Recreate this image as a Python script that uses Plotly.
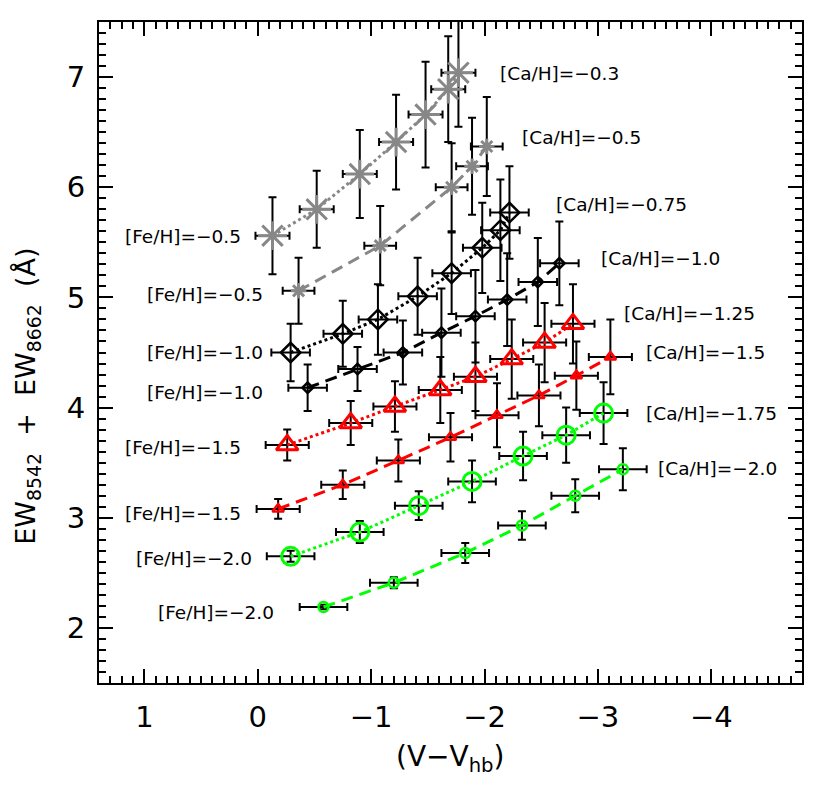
import plotly.graph_objects as go

# (V - V_hb), EW8542 + EW8662, and errors for each curve
ca03_x = [-0.13, -0.52, -0.90, -1.22, -1.48, -1.68, -1.77]
ca03_y = [5.56, 5.80, 6.12, 6.41, 6.66, 6.89, 7.04]
ca03_ey = [0.35, 0.35, 0.40, 0.43, 0.48, 0.48, 0.49]
ca03_ex = [0.15, 0.15, 0.15, 0.15, 0.15, 0.15, 0.15]

ca05_x = [-0.36, -1.08, -1.71, -1.89, -2.02]
ca05_y = [5.06, 5.47, 6.00, 6.19, 6.37]
ca05_ey = [0.30, 0.36, 0.40, 0.44, 0.45]
ca05_ex = [0.14, 0.14, 0.14, 0.14, 0.14]

ca075_x = [-0.29, -0.75, -1.06, -1.41, -1.71, -1.98, -2.14, -2.22]
ca075_y = [4.50, 4.67, 4.80, 5.01, 5.22, 5.45, 5.61, 5.77]
ca075_ey = [0.26, 0.30, 0.32, 0.35, 0.37, 0.41, 0.46, 0.42]
ca075_ex = [0.17, 0.17, 0.17, 0.17, 0.17, 0.17, 0.17, 0.17]

ca10_x = [-0.44, -0.88, -1.28, -1.62, -1.92, -2.20, -2.47, -2.66]
ca10_y = [4.18, 4.35, 4.50, 4.68, 4.83, 4.98, 5.14, 5.31]
ca10_ey = [0.21, 0.20, 0.29, 0.40, 0.42, 0.42, 0.40, 0.38]
ca10_ex = [0.17, 0.17, 0.17, 0.17, 0.17, 0.17, 0.17, 0.17]

ca125_x = [-0.26, -0.82, -1.21, -1.61, -1.92, -2.24, -2.53, -2.78]
ca125_y = [3.66, 3.86, 4.01, 4.16, 4.28, 4.44, 4.59, 4.76]
ca125_ey = [0.14, 0.20, 0.23, 0.30, 0.31, 0.36, 0.36, 0.36]
ca125_ex = [0.19, 0.19, 0.19, 0.19, 0.19, 0.19, 0.19, 0.19]

ca15_x = [-0.18, -0.75, -1.24, -1.70, -2.11, -2.48, -2.81, -3.11]
ca15_y = [3.08, 3.30, 3.52, 3.73, 3.93, 4.11, 4.29, 4.46]
ca15_ey = [0.09, 0.13, 0.19, 0.22, 0.29, 0.28, 0.31, 0.34]
ca15_ex = [0.19, 0.19, 0.19, 0.19, 0.19, 0.19, 0.19, 0.19]

ca175_x = [-0.29, -0.90, -1.42, -1.89, -2.34, -2.72, -3.05]
ca175_y = [2.65, 2.87, 3.11, 3.33, 3.56, 3.75, 3.95]
ca175_ey = [0.05, 0.10, 0.13, 0.19, 0.22, 0.25, 0.28]
ca175_ex = [0.21, 0.21, 0.21, 0.21, 0.21, 0.21, 0.21]

ca20_x = [-0.58, -1.20, -1.83, -2.33, -2.80, -3.22]
ca20_y = [2.19, 2.41, 2.68, 2.93, 3.20, 3.44]
ca20_ey = [0.02, 0.05, 0.09, 0.13, 0.15, 0.19]
ca20_ex = [0.21, 0.21, 0.21, 0.21, 0.21, 0.21]

fe_labels = ["[Fe/H]=−0.5", "[Fe/H]=−0.5", "[Fe/H]=−1.0", "[Fe/H]=−1.0",
             "[Fe/H]=−1.5", "[Fe/H]=−1.5", "[Fe/H]=−2.0", "[Fe/H]=−2.0"]
ca_labels = ["[Ca/H]=−0.3", "[Ca/H]=−0.5", "[Ca/H]=−0.75", "[Ca/H]=−1.0",
             "[Ca/H]=−1.25", "[Ca/H]=−1.5", "[Ca/H]=−1.75", "[Ca/H]=−2.0"]

x_ticks = [1, 0, -1, -2, -3, -4]
x_ticktext = ["1", "0", "−1", "−2", "−3", "−4"]
y_ticks = [2, 3, 4, 5, 6, 7]

GRAY = "#878787"
RED = "#ff0000"
GREEN = "#00ff00"
FONT = "DejaVu Sans"

series = [
    (ca03_x, ca03_y, ca03_ex, ca03_ey, GRAY, "asterisk-open", 24, 3, "dot"),
    (ca05_x, ca05_y, ca05_ex, ca05_ey, GRAY, "asterisk-open", 13, 3, "12px,7px"),
    (ca075_x, ca075_y, ca075_ex, ca075_ey, "black", "diamond-open", 15, 2.5, "dot"),
    (ca10_x, ca10_y, ca10_ex, ca10_ey, "black", "diamond-open", 8, 2.5, "12px,7px"),
    (ca125_x, ca125_y, ca125_ex, ca125_ey, RED, "triangle-up-open", 19, 3, "dot"),
    (ca15_x, ca15_y, ca15_ex, ca15_ey, RED, "triangle-up-open", 10, 2.5, "12px,7px"),
    (ca175_x, ca175_y, ca175_ex, ca175_ey, GREEN, "circle-open", 18, 3, "dot"),
    (ca20_x, ca20_y, ca20_ex, ca20_ey, GREEN, "circle-open", 10, 2.5, "12px,7px"),
]

fig = go.Figure()
for x, y, ex, ey, color, sym, size, lw, dash in series:
    fig.add_trace(go.Scatter(
        x=x, y=y,
        mode="lines+markers",
        line=dict(color=color, width=3, dash=dash),
        marker=dict(symbol=sym, size=size, color=color, line=dict(color=color, width=lw)),
        error_x=dict(type="data", array=ex, color="black", thickness=2, width=4),
        error_y=dict(type="data", array=ey, color="black", thickness=2, width=4),
        showlegend=False,
    ))

# label positions (data coords): left side labels start, right side labels start
fe_pos = [(1.19, 5.55), (0.99, 5.03), (0.99, 4.50), (0.99, 4.14),
          (1.19, 3.64), (1.19, 3.04), (1.09, 2.63), (0.90, 2.14)]
ca_pos = [(-2.12, 7.03), (-2.31, 6.45), (-2.61, 5.84), (-3.01, 5.35),
          (-3.21, 4.85), (-3.41, 4.50), (-3.41, 3.95), (-3.51, 3.45)]
for text, (lx, ly) in zip(fe_labels + ca_labels, fe_pos + ca_pos):
    fig.add_annotation(x=lx, y=ly, text=text, showarrow=False, xanchor="left",
                       yanchor="middle", font=dict(size=18.5, color="black", family=FONT))

fig.add_annotation(xref="paper", yref="paper", x=0.5, y=0, yshift=-75,
                   text="(V−V<sub>hb</sub>)", showarrow=False,
                   xanchor="center", yanchor="middle",
                   font=dict(size=28, color="black", family=FONT))
fig.add_annotation(xref="paper", yref="paper", x=0, y=0.433, xshift=-71,
                   text="EW<sub>8542</sub>  +  EW<sub>8662</sub>  (Å)", showarrow=False,
                   textangle=-90, xanchor="center", yanchor="middle",
                   font=dict(size=27, color="black", family=FONT))

axis_common = dict(
    showgrid=False, zeroline=False,
    showline=True, linecolor="black", linewidth=2, mirror="ticks",
    ticks="inside", ticklen=14, tickwidth=2, tickcolor="black",
    minor=dict(dtick=0.1, ticks="inside", ticklen=7, tickwidth=2, tickcolor="black"),
    tickfont=dict(size=29, color="black", family=FONT),
)
fig.update_xaxes(range=[1.4, -4.8], tickvals=x_ticks, ticktext=x_ticktext,
                 ticklabelstandoff=7, **axis_common)
fig.update_yaxes(range=[1.5, 7.5], tickvals=y_ticks, ticklabelstandoff=6, **axis_common)

# page body adds an 8px margin, so the figure is 8px smaller and margins shifted
fig.update_layout(
    width=819, height=778,
    margin=dict(l=91, r=25, t=14, b=103),
    plot_bgcolor="white", paper_bgcolor="white",
    font=dict(family=FONT, color="black"),
)

fig.write_html("out.html")
